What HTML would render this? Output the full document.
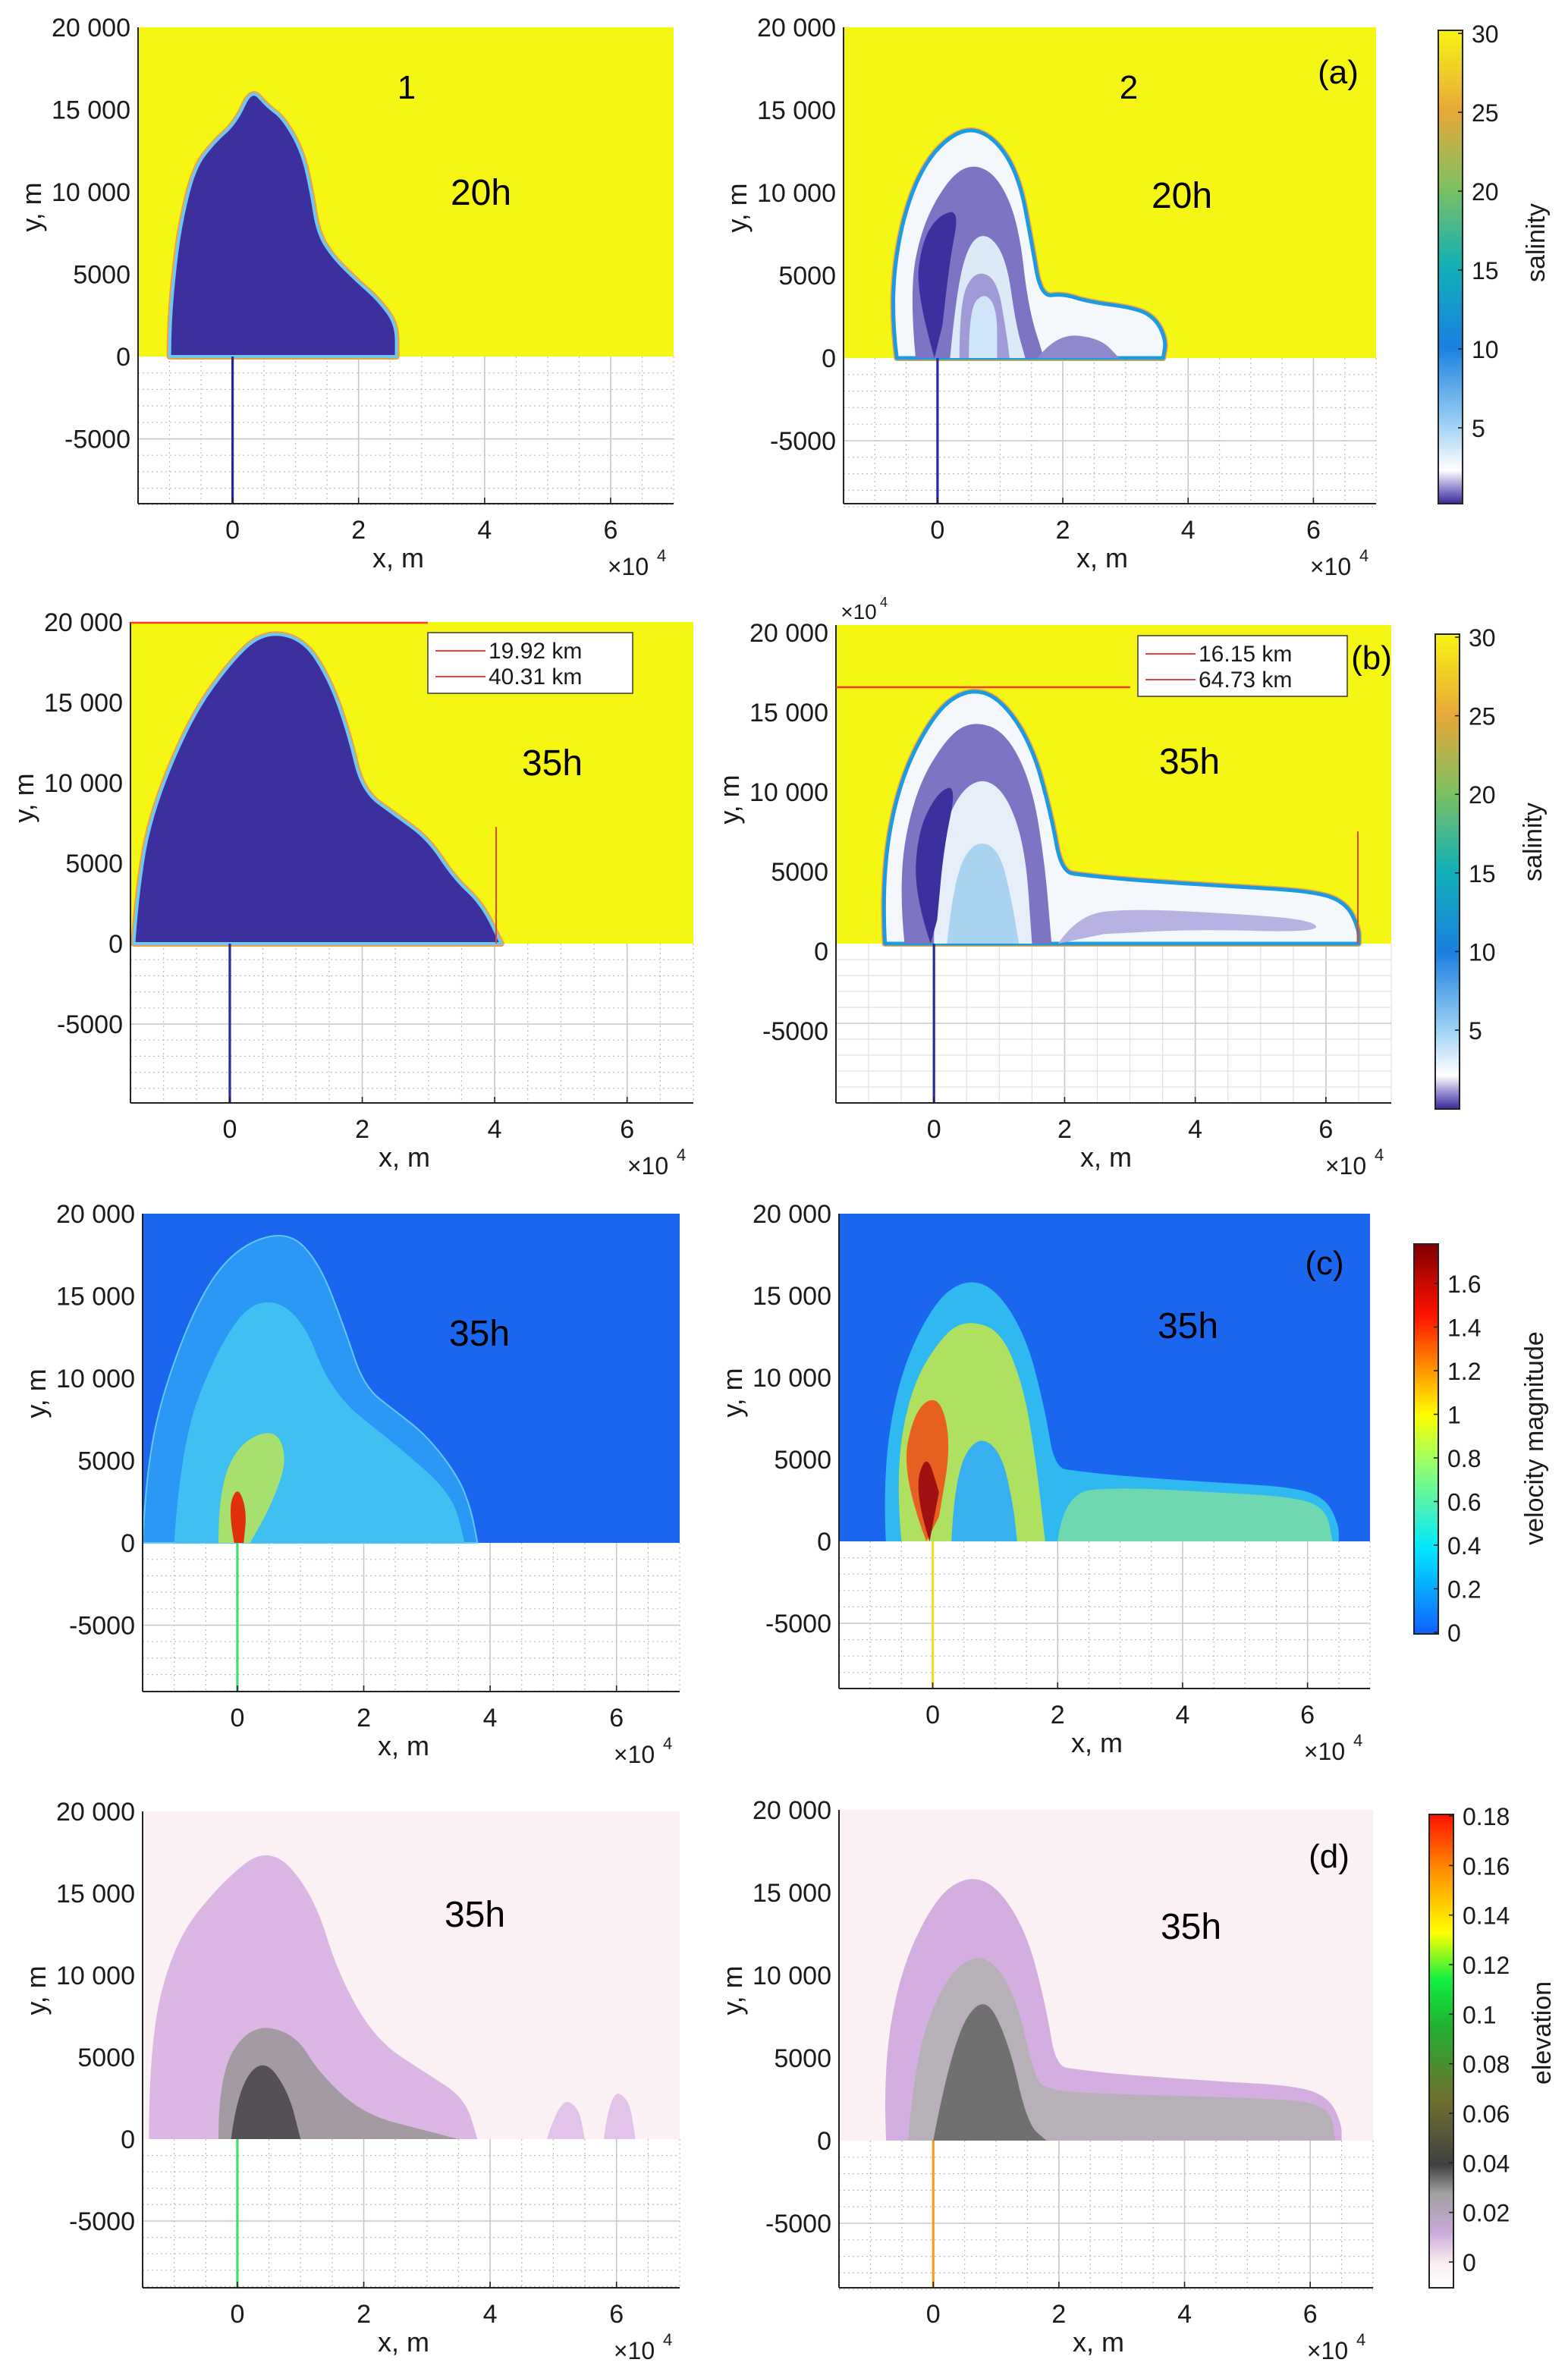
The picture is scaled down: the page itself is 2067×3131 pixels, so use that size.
<!DOCTYPE html>
<html><head><meta charset="utf-8">
<style>
html,body{margin:0;padding:0;background:#fff;}
svg{display:block;font-family:"Liberation Sans",sans-serif;}
</style></head>
<body>
<svg id="fig" width="2067" height="3131" viewBox="0 0 1033.5 1565.5" xmlns="http://www.w3.org/2000/svg">
<defs>
<linearGradient id="gSal" x1="0" y1="1" x2="0" y2="0">
<stop offset="0" stop-color="#3a2a98"/><stop offset="0.03" stop-color="#8a80cc"/><stop offset="0.07" stop-color="#ffffff"/>
<stop offset="0.17" stop-color="#9cd0f4"/><stop offset="0.33" stop-color="#1a80e0"/><stop offset="0.5" stop-color="#10b0b8"/>
<stop offset="0.67" stop-color="#80c060"/><stop offset="0.83" stop-color="#e8a838"/><stop offset="1" stop-color="#f8f414"/>
</linearGradient>
<linearGradient id="gVel" x1="0" y1="1" x2="0" y2="0">
<stop offset="0" stop-color="#1060ff"/><stop offset="0.22" stop-color="#00e8ff"/><stop offset="0.45" stop-color="#a0ff60"/>
<stop offset="0.56" stop-color="#ffff00"/><stop offset="0.7" stop-color="#ff8000"/><stop offset="0.82" stop-color="#ff1000"/>
<stop offset="1" stop-color="#800000"/>
</linearGradient>
<linearGradient id="gElev" x1="0" y1="1" x2="0" y2="0">
<stop offset="0" stop-color="#ffffff"/><stop offset="0.05" stop-color="#fbeef2"/><stop offset="0.12" stop-color="#c8a8d8"/>
<stop offset="0.2" stop-color="#a0a0a0"/><stop offset="0.26" stop-color="#404040"/><stop offset="0.4" stop-color="#707030"/>
<stop offset="0.55" stop-color="#20b030"/><stop offset="0.65" stop-color="#10f040"/><stop offset="0.75" stop-color="#ffff00"/>
<stop offset="0.88" stop-color="#ff9000"/><stop offset="1" stop-color="#ff1000"/>
</linearGradient>
</defs>
</svg>
<script>
// ---- data arrays ----
const xTicks = [0, 2, 4, 6];
const xTickLabels = ["0", "2", "4", "6"];
const yTicks = [20000, 15000, 10000, 5000, 0, -5000];
const yTickLabels = ["20 000", "15 000", "10 000", "5000", "0", "-5000"];
const salTicks = [30, 25, 20, 15, 10, 5];
const velTicks = [1.6, 1.4, 1.2, 1, 0.8, 0.6, 0.4, 0.2, 0];
const elevTicks = [0.18, 0.16, 0.14, 0.12, 0.1, 0.08, 0.06, 0.04, 0.02, 0];
const legendB1 = ["19.92 km", "40.31 km"];
const legendB2 = ["16.15 km", "64.73 km"];

// plume outlines (x in 1e4 m, y in m)
const plumeA1 = [[-1.0,0],[-1.0,2000],[-0.9,6000],[-0.8,8500],[-0.6,11500],[-0.3,13000],[0.05,14200],[0.3,16300],[0.55,15200],[0.8,14500],[1.1,12500],[1.25,10000],[1.35,7500],[1.6,6000],[2.0,4500],[2.3,3500],[2.6,2000],[2.6,0]];
const archA2 = [[-0.65,0],[-0.75,3000],[-0.6,8000],[-0.2,12000],[0.4,14000],[0.9,13400],[1.3,11000],[1.5,7000],[1.65,3700],[2.0,3900],[2.4,3400],[3.2,3000],[3.5,2300],[3.65,1000],[3.6,0]];
const bandA2 = [[-0.35,0],[-0.45,4000],[-0.25,8000],[0.2,11000],[0.6,11800],[1.0,10800],[1.3,8000],[1.45,3000],[1.7,0]];
const innerA2 = [[0.2,0],[0.3,4000],[0.5,7000],[0.8,7600],[1.1,6000],[1.25,2000],[1.4,0]];
const coreA2 = [[-0.05,0],[-0.35,4000],[-0.25,7000],[0.0,8600],[0.35,9000],[0.2,6000],[0.08,2000]];
const ring2A2 = [[0.35,0],[0.35,3500],[0.6,5300],[0.95,4800],[1.1,1500],[1.15,0]];
const hole2A2 = [[0.5,0],[0.5,3000],[0.75,4000],[0.95,3000],[0.95,0]];
const shelfA2 = [[1.6,0],[1.9,1500],[2.6,1200],[2.9,0]];

const plumeB1 = [[-1.45,0],[-1.4,3000],[-1.2,8000],[-0.6,14000],[0,17500],[0.5,19400],[1.1,19000],[1.5,16500],[1.8,13000],[2.0,9500],[2.5,8000],[3.0,6500],[3.4,4000],[3.8,2500],[4.1,0]];
const archB2 = [[-0.75,0],[-0.8,4000],[-0.55,10000],[0,14500],[0.5,16000],[1.0,15500],[1.5,12500],[1.8,8000],[1.95,4500],[2.3,4300],[3,4000],[4.5,3600],[5.8,3300],[6.3,2600],[6.5,1000],[6.5,0]];
const bandB2 = [[-0.45,0],[-0.55,4000],[-0.3,9500],[0.2,13000],[0.6,14000],[1.1,13300],[1.5,10000],[1.7,5000],[1.8,0]];
const innerB2 = [[0.0,0],[0.0,5000],[0.3,9000],[0.7,10500],[1.1,9500],[1.4,6000],[1.5,0]];
const blueB2 = [[0.2,0],[0.3,4000],[0.6,6500],[1.0,6000],[1.2,2500],[1.3,0]];
const coreB2 = [[-0.05,0],[-0.3,3000],[-0.25,7000],[0.05,9500],[0.35,10000],[0.15,6000],[0.05,1500]];
const shelfB2 = [[1.9,0],[2.2,1800],[3,2200],[4.5,1900],[5.8,1500],[5.9,700],[4,900],[2.6,600]];

const plumeC1 = [[-1.5,0],[-1.45,4000],[-1.2,9000],[-0.6,15000],[0,18000],[0.8,19000],[1.3,17000],[1.7,13000],[2.0,9500],[2.5,8000],[3.0,6500],[3.5,4000],[3.7,2000],[3.8,0]];
const midC1 = [[-1,0],[-0.9,6000],[-0.3,12000],[0.3,15000],[1,14000],[1.5,9000],[2.5,6000],[3.4,3000],[3.6,0]];
const hotC1 = [[-0.3,0],[-0.3,3000],[0,6000],[0.6,7000],[0.8,5000],[0.5,2000],[0.2,0]];
const redC1 = [[-0.05,0],[-0.15,2000],[0,3500],[0.15,2000],[0.1,0]];
const archC2 = [[-0.75,0],[-0.8,4000],[-0.55,10000],[0,14500],[0.5,16000],[1.0,15500],[1.5,12500],[1.8,8000],[1.95,4500],[2.3,4300],[3,4000],[4.5,3600],[5.8,3300],[6.3,2600],[6.5,1000],[6.5,0]];
const bandC2 = [[-0.5,0],[-0.6,4000],[-0.35,9500],[0.2,12800],[0.6,13500],[1.1,12800],[1.45,9500],[1.65,5000],[1.8,0]];
const holeC2 = [[0.3,0],[0.35,4000],[0.7,6500],[1.1,5500],[1.3,2000],[1.35,0]];
const orangeC2 = [[-0.1,0],[-0.5,4000],[-0.3,8000],[0.1,9000],[0.3,6000],[0.1,1500]];
const darkC2 = [[-0.05,0],[-0.3,3000],[-0.1,5500],[0.1,3000]];
const shelfC2 = [[2.0,0],[2.1,3000],[3,3300],[4.5,3000],[5.8,2700],[6.3,2000],[6.4,0]];

const plumeD1 = [[-1.4,0],[-1.4,6000],[-1,12000],[-0.3,15500],[0.5,18000],[1.2,15000],[1.6,10000],[2.2,6000],[3.0,4000],[3.6,2500],[3.8,0]];
const grayD1 = [[-0.3,0],[-0.3,4000],[0.2,7000],[0.9,6500],[1.3,4000],[2.0,1500],[3.0,500],[3.5,0]];
const darkD1 = [[-0.1,0],[0,3000],[0.4,5000],[0.8,3000],[1.0,0]];
const blobD1a = [[4.9,0],[5.1,2500],[5.4,2000],[5.5,0]];
const blobD1b = [[5.8,0],[5.9,3000],[6.2,2500],[6.3,0]];
const archD2 = [[-0.75,0],[-0.8,4000],[-0.55,10000],[0,14500],[0.5,16000],[1.0,15500],[1.5,12500],[1.8,8000],[1.95,4500],[2.3,4300],[3,4000],[4.5,3600],[5.8,3300],[6.3,2600],[6.5,1000],[6.5,0]];
const grayD2 = [[-0.4,0],[-0.3,5000],[0.2,10000],[0.8,11500],[1.3,9000],[1.6,4000],[1.8,3000],[3,2800],[5,2600],[6.3,2300],[6.4,0]];
const darkD2 = [[0,0],[0.3,6000],[0.8,9000],[1.2,6000],[1.5,1000],[1.8,0]];

const NS = "http://www.w3.org/2000/svg";
const svg = document.getElementById("fig");
function mk(tag, attrs, parent) {
  const el = document.createElementNS(NS, tag);
  for (const k in attrs) el.setAttribute(k, attrs[k]);
  (parent || svg).appendChild(el);
  return el;
}
function txt(str, x, y, size, parent, anchor, rot) {
  const t = mk("text", {x: x, y: y, "font-size": size, "text-anchor": anchor || "middle", fill: "#1a1a1a"}, parent);
  if (rot) t.setAttribute("transform", "rotate(-90 " + x + " " + y + ")");
  t.textContent = str;
  return t;
}
// smooth closed-ish path: straight along baseline, curved elsewhere
function smoothPath(P) {
  let d = "M" + P[0][0].toFixed(1) + "," + P[0][1].toFixed(1);
  for (let i = 1; i < P.length - 1; i++) {
    const mx = (P[i][0] + P[i + 1][0]) / 2, my = (P[i][1] + P[i + 1][1]) / 2;
    d += "Q" + P[i][0].toFixed(1) + "," + P[i][1].toFixed(1) + " " + mx.toFixed(1) + "," + my.toFixed(1);
  }
  d += "L" + P[P.length - 1][0].toFixed(1) + "," + P[P.length - 1][1].toFixed(1) + "Z";
  return d;
}

function panel(p) {
  const g = mk("g", {});
  
  
  const sx = v => p.L + (v + 1.5) / 8.5 * (p.R - p.L);
  const sy = v => p.Y0 - v * (p.Y0 - p.T) / 20000;
  const grid = mk("g", {}, g);
  
  
  for (let xv = -1.5; xv <= 7.01; xv += 0.5) {
    const major = Math.abs(xv / 2 - Math.round(xv / 2)) < 1e-6;
    mk("line", {x1: sx(xv), x2: sx(xv), y1: p.Y0, y2: p.B, stroke: major ? "#c8c8c8" : (p.solid ? "#e2e2e2" : "#bdbdbd"), "stroke-width": major ? 0.8 : 0.6, "stroke-dasharray": (major || p.solid) ? "" : "1,2"}, grid);
  }
  for (let yv = -1000; yv >= -9000; yv -= 1000) {
    const major = yv === -5000;
    mk("line", {x1: p.L, x2: p.R, y1: sy(yv), y2: sy(yv), stroke: major ? "#c8c8c8" : (p.solid ? "#e2e2e2" : "#bdbdbd"), "stroke-width": major ? 0.8 : 0.6, "stroke-dasharray": (major || p.solid) ? "" : "1,2"}, grid);
  }
  const bg = mk("rect", {x: p.L, y: p.T, width: p.R - p.L, height: p.Y0 - p.T, fill: p.bg}, g);
  
  
  p.layers.forEach(ly => {
    const P = ly.pts.map(q => [sx(q[0]), sy(q[1])]);
    const path = mk("path", {d: smoothPath(P), fill: ly.fill, stroke: ly.stroke || "none", "stroke-width": ly.sw || 0, "stroke-linejoin": "round"}, g);
    
    
  });
  const src = mk("line", {x1: sx(0), x2: sx(0), y1: p.Y0, y2: p.B, stroke: p.srcColor, "stroke-width": 1.6}, g);
  
  
  mk("line", {x1: p.L, x2: p.L, y1: p.T, y2: p.B, stroke: "#222", "stroke-width": 1}, g);
  mk("line", {x1: p.L, x2: p.R, y1: p.B, y2: p.B, stroke: "#222", "stroke-width": 1}, g);
  xTicks.forEach((v, i) => {
    mk("line", {x1: sx(v), x2: sx(v), y1: p.B, y2: p.B - 4, stroke: "#222", "stroke-width": 0.8}, g);
    const t = txt(xTickLabels[i], sx(v), p.B + 23, 17, g);
    
    
  });
  yTicks.forEach((v, i) => {
    const t = txt(yTickLabels[i], p.L - 5, sy(v) + (p.yOff || 0) + 6, 17, g, "end");
    
    
  });
  const xl = txt("x, m", (p.L + p.R) / 2 - 5, p.B + 42, 18, g);
  
  
  const ex = txt("×10", p.R - 30, p.B + 47, 16, g);
  
  
  txt("4", p.R - 11, p.B + 38, 11, g, "start");
  const yl = txt("y, m", p.L - 64, (p.T + p.Y0) / 2 + 10, 18, g, "middle", true);
  
  
  p.notes.forEach(n => {
    const t = mk("text", {x: n[1], y: n[2], "font-size": n[3], "text-anchor": "middle", fill: "#000"}, g);
    t.textContent = n[0];
    
    
  });
  return {g, sx, sy};
}

function colorbar(c) {
  const g = mk("g", {});
  
  
  mk("rect", {x: c.x, y: c.top, width: 16, height: c.bot - c.top, fill: c.grad, stroke: "#222", "stroke-width": 1}, g);
  c.ticks.forEach((v, i) => {
    const y = c.y0 + (v - c.v0) / (c.v1 - c.v0) * (c.y1 - c.y0);
    mk("line", {x1: c.x + 13, x2: c.x + 16, y1: y, y2: y, stroke: "#222", "stroke-width": 0.8}, g);
    const t = txt(String(v), c.x + 22, y + 6, 16, g, "start");
    
    
  });
  const l = txt(c.label, c.lx, c.ly, 17, g, "middle", true);
  
  
}

function legend(x, y, w, labels, g) {
  const lg = mk("g", {}, g);
  
  
  mk("rect", {x: x, y: y, width: w, height: 40, fill: "#fff", stroke: "#444", "stroke-width": 0.8}, lg);
  labels.forEach((s, i) => {
    mk("line", {x1: x + 5, x2: x + 38, y1: y + 12 + i * 17, y2: y + 12 + i * 17, stroke: "#f04040", "stroke-width": 1}, lg);
    const t = txt(s, x + 40, y + 17 + i * 17, 15, lg, "start");
    
    
  });
}

const YEL = "#f6f615", DK = "#3c2f9e";
panel({name: "panel-a1", L: 91, R: 444, T: 18, Y0: 235, B: 332, bg: YEL, srcColor: "#2a2a9e",
  layers: [{name: "plume-edge", pts: plumeA1, fill: DK, stroke: "#f0a040", sw: 4},
           {name: "plume", pts: plumeA1, fill: DK, stroke: "#70c8f0", sw: 2}],
  notes: [["1", 268, 65, 22], ["20h", 317, 135, 24]]});
panel({name: "panel-a2", L: 556, R: 907, T: 18, Y0: 236, B: 332, bg: YEL, srcColor: "#2a2a9e",
  layers: [{name: "plume-edge", pts: archA2, fill: "#f4f8fc", stroke: "#e8a840", sw: 4},
           {name: "plume", pts: archA2, fill: "#f4f8fc", stroke: "#1e9ae0", sw: 2.5},
           {name: "band", pts: bandA2, fill: "#7d74c4"}, {name: "inner", pts: innerA2, fill: "#dce9f7"},
           {name: "core", pts: coreA2, fill: DK}, {name: "ring", pts: ring2A2, fill: "#a09ad6"},
           {name: "hole", pts: hole2A2, fill: "#d0e6f8"}, {name: "shelf", pts: shelfA2, fill: "#9088cc"}],
  notes: [["2", 744, 65, 22], ["20h", 779, 137, 24], ["(a)", 882, 55, 22]]});
colorbar({name: "colorbar-a", x: 948, top: 20, bot: 332, grad: "url(#gSal)", ticks: salTicks, v0: 30, v1: 5, y0: 22, y1: 282, label: "salinity", lx: 1018, ly: 160});

const b1 = panel({name: "panel-b1", L: 86, R: 457, T: 410, Y0: 622, B: 727, bg: YEL, srcColor: "#2a2a9e",
  layers: [{name: "plume-edge", pts: plumeB1, fill: DK, stroke: "#f0a040", sw: 4},
           {name: "plume", pts: plumeB1, fill: DK, stroke: "#70c8f0", sw: 2}],
  notes: [["35h", 364, 511, 24]]});
mk("line", {x1: 86, x2: 282, y1: 410.5, y2: 410.5, stroke: "#f04020", "stroke-width": 1.2}, b1.g);
mk("line", {x1: 327, x2: 327, y1: 545, y2: 622, stroke: "#f04020", "stroke-width": 1}, b1.g);
legend(282, 417, 135, legendB1, b1.g);
const b2 = panel({name: "panel-b2", L: 551, R: 917, T: 412, Y0: 622, B: 727, bg: YEL, srcColor: "#2a2a9e", solid: true, yOff: 5,
  layers: [{name: "plume-edge", pts: archB2, fill: "#f4f8fc", stroke: "#e8a840", sw: 4},
           {name: "plume", pts: archB2, fill: "#f4f8fc", stroke: "#1e9ae0", sw: 2.5},
           {name: "band", pts: bandB2, fill: "#7d74c4"}, {name: "inner", pts: innerB2, fill: "#e6eefa"},
           {name: "blue-core", pts: blueB2, fill: "#a8d4f2"}, {name: "core", pts: coreB2, fill: DK},
           {name: "shelf", pts: shelfB2, fill: "#b8b2e2"}],
  notes: [["35h", 784, 510, 24], ["(b)", 904, 441, 22]]});
mk("line", {x1: 551, x2: 745, y1: 453, y2: 453, stroke: "#f04020", "stroke-width": 1.2}, b2.g);
mk("line", {x1: 895, x2: 895, y1: 548, y2: 622, stroke: "#f04020", "stroke-width": 1}, b2.g);
legend(750, 419, 138, legendB2, b2.g);
txt("×10", 566, 408, 14, b2.g);
txt("4", 580, 400, 9, b2.g, "start");
colorbar({name: "colorbar-b", x: 946, top: 418, bot: 731, grad: "url(#gSal)", ticks: salTicks, v0: 30, v1: 5, y0: 420, y1: 679, label: "salinity", lx: 1016, ly: 555});

const BL = "#1b66ef";
panel({name: "panel-c1", L: 94, R: 448, T: 800, Y0: 1017, B: 1115, bg: BL, srcColor: "#40e070",
  layers: [{name: "plume", pts: plumeC1, fill: "#2a98f4", stroke: "#60c8f8", sw: 1},
           {name: "plume-mid", pts: midC1, fill: "#40c0f0"}, {name: "plume-fast", pts: hotC1, fill: "#a8e070"},
           {name: "jet-core", pts: redC1, fill: "#e03010"}],
  notes: [["35h", 316, 887, 24]]});
panel({name: "panel-c2", L: 553, R: 903, T: 800, Y0: 1016, B: 1113, bg: BL, srcColor: "#f0e020",
  layers: [{name: "plume", pts: archC2, fill: "#30b8f0"}, {name: "shelf", pts: shelfC2, fill: "#70d8b0"},
           {name: "band", pts: bandC2, fill: "#b0e060"}, {name: "hole", pts: holeC2, fill: "#38b0f0"},
           {name: "jet", pts: orangeC2, fill: "#e86020"}, {name: "jet-core", pts: darkC2, fill: "#a01010"}],
  notes: [["35h", 783, 882, 24], ["(c)", 873, 840, 22]]});
colorbar({name: "colorbar-c", x: 932, top: 820, bot: 1077, grad: "url(#gVel)", ticks: velTicks, v0: 0, v1: 1.6, y0: 1076, y1: 846, label: "velocity magnitude", lx: 1017, ly: 948});

const PK = "#fbf0f3";
panel({name: "panel-d1", L: 94, R: 448, T: 1194, Y0: 1410, B: 1508, bg: PK, srcColor: "#40e070",
  layers: [{name: "plume", pts: plumeD1, fill: "#dcb6e4"}, {name: "blob", pts: blobD1a, fill: "#e2c4ea"},
           {name: "blob", pts: blobD1b, fill: "#e2c4ea"}, {name: "plume-gray", pts: grayD1, fill: "#a39aa4"},
           {name: "plume-dark", pts: darkD1, fill: "#555055"}],
  notes: [["35h", 313, 1270, 24]]});
panel({name: "panel-d2", L: 553, R: 905, T: 1193, Y0: 1411, B: 1508, bg: PK, srcColor: "#f0a020",
  layers: [{name: "plume", pts: archD2, fill: "#d4aee0"}, {name: "plume-gray", pts: grayD2, fill: "#b8b0b8"},
           {name: "plume-dark", pts: darkD2, fill: "#707070"}],
  notes: [["35h", 785, 1278, 24], ["(d)", 876, 1231, 22]]});
colorbar({name: "colorbar-d", x: 942, top: 1196, bot: 1508, grad: "url(#gElev)", ticks: elevTicks, v0: 0, v1: 0.18, y0: 1491, y1: 1197, label: "elevation", lx: 1022, ly: 1340});
</script>
</body></html>
